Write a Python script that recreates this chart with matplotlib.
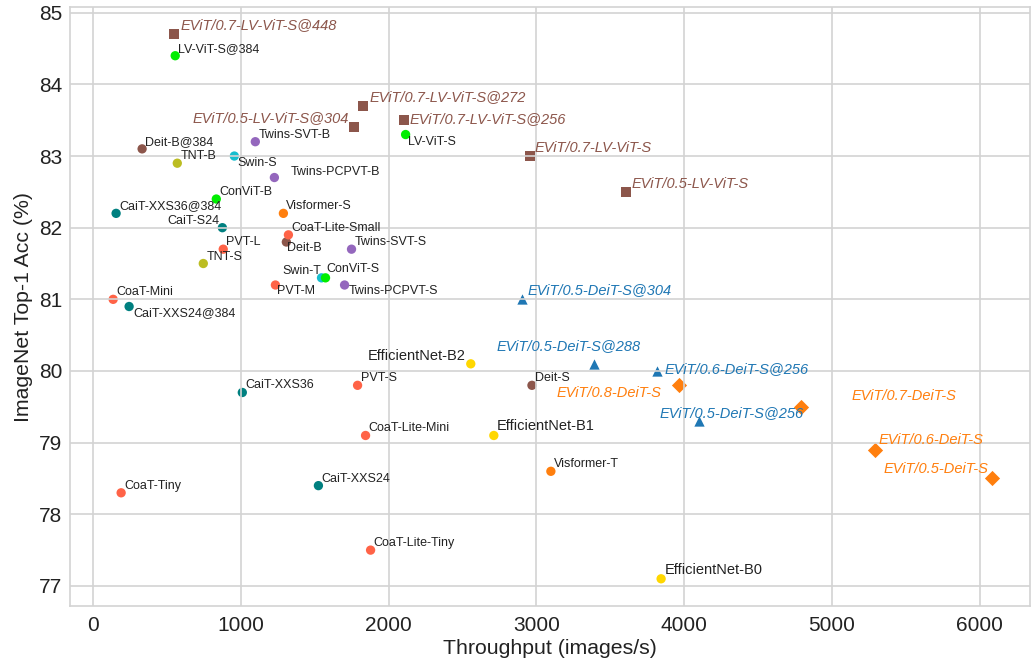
import matplotlib
matplotlib.use("Agg")
import matplotlib.pyplot as plt
import seaborn as sns

# --- baseline models ---
base_names = ["LV-ViT-S@384", "LV-ViT-S", "Deit-B@384", "Deit-B", "Deit-S",
              "TNT-B", "TNT-S", "Swin-S", "Swin-T",
              "Twins-SVT-B", "Twins-PCPVT-B", "Twins-SVT-S", "Twins-PCPVT-S",
              "ConViT-B", "ConViT-S",
              "CaiT-XXS36@384", "CaiT-S24", "CaiT-XXS24@384", "CaiT-XXS36", "CaiT-XXS24",
              "Visformer-S", "Visformer-T",
              "CoaT-Lite-Small", "PVT-L", "PVT-M", "PVT-S", "CoaT-Mini",
              "CoaT-Lite-Mini", "CoaT-Tiny", "CoaT-Lite-Tiny",
              "EfficientNet-B2", "EfficientNet-B1", "EfficientNet-B0"]
base_thr = [556, 2115, 332, 1308, 2970,
            570, 746, 956, 1546,
            1098, 1227, 1749, 1702,
            834, 1573,
            156, 875, 244, 1010, 1525,
            1288, 3098,
            1322, 881, 1234, 1790, 136,
            1844, 190, 1878,
            2556, 2712, 3844]
base_acc = [84.4, 83.3, 83.1, 81.8, 79.8,
            82.9, 81.5, 83.0, 81.3,
            83.2, 82.7, 81.7, 81.2,
            82.4, 81.3,
            82.2, 82.0, 80.9, 79.7, 78.4,
            82.2, 78.6,
            81.9, 81.7, 81.2, 79.8, 81.0,
            79.1, 78.3, 77.5,
            80.1, 79.1, 77.1]
base_family = ["lvvit", "lvvit", "deit", "deit", "deit",
               "tnt", "tnt", "swin", "swin",
               "twins", "twins", "twins", "twins",
               "convit", "convit",
               "cait", "cait", "cait", "cait", "cait",
               "visformer", "visformer",
               "coat", "coat", "coat", "coat", "coat",
               "coat", "coat", "coat",
               "effnet", "effnet", "effnet"]

# --- EViT on LV-ViT ---
evit_lv_names = ["EViT/0.7-LV-ViT-S@448", "EViT/0.7-LV-ViT-S@272", "EViT/0.5-LV-ViT-S@304",
                 "EViT/0.7-LV-ViT-S@256", "EViT/0.7-LV-ViT-S", "EViT/0.5-LV-ViT-S"]
evit_lv_thr = [549, 1830, 1763, 2102, 2956, 3607]
evit_lv_acc = [84.7, 83.7, 83.4, 83.5, 83.0, 82.5]

# --- EViT on DeiT-S, higher resolution ---
evit_res_names = ["EViT/0.5-DeiT-S@304", "EViT/0.5-DeiT-S@288",
                  "EViT/0.6-DeiT-S@256", "EViT/0.5-DeiT-S@256"]
evit_res_thr = [2902, 3390, 3817, 4102]
evit_res_acc = [81.0, 80.1, 80.0, 79.3]

# --- EViT on DeiT-S ---
evit_deit_names = ["EViT/0.8-DeiT-S", "EViT/0.7-DeiT-S", "EViT/0.6-DeiT-S", "EViT/0.5-DeiT-S"]
evit_deit_thr = [3966, 4793, 5288, 6081]
evit_deit_acc = [79.8, 79.5, 78.9, 78.5]

family_colors = {
    "lvvit": "#00ee00", "deit": "#8c564b", "tnt": "#bcbd22", "swin": "#17becf",
    "twins": "#9467bd", "convit": "#00ee00", "cait": "#008080", "visformer": "#ff7f0e",
    "coat": "#ff6347", "effnet": "#ffd700",
}

# label offsets in pixels (dx, dy, ha); default is up-right of the point
label_pos = {
    "Swin-S": (3, -7, "left"), "Twins-PCPVT-B": (16, 6, "left"),
    "CaiT-S24": (-3, 7, "right"), "Deit-B": (1, -6, "left"),
    "Swin-T": (0, 7, "right"), "ConViT-S": (1, 9, "left"),
    "PVT-M": (2, -6, "left"), "Twins-PCPVT-S": (4, -6, "left"),
    "CaiT-XXS24@384": (4, -7, "left"), "LV-ViT-S": (2, -7, "left"),
    "EfficientNet-B2": (-5, 8, "right"), "EfficientNet-B1": (3, 9, "left"),
    "EfficientNet-B0": (4, 9, "left"),
    "EViT/0.7-LV-ViT-S@448": (6, 9, "left"), "EViT/0.7-LV-ViT-S@272": (6, 9, "left"),
    "EViT/0.5-LV-ViT-S@304": (-5, 9, "right"), "EViT/0.7-LV-ViT-S@256": (6, 1, "left"),
    "EViT/0.7-LV-ViT-S": (5, 8, "left"), "EViT/0.5-LV-ViT-S": (5, 8, "left"),
    "EViT/0.5-DeiT-S@304": (6, 9, "left"), "EViT/0.5-DeiT-S@288": (-97, 18, "left"),
    "EViT/0.6-DeiT-S@256": (7, 2, "left"), "EViT/0.5-DeiT-S@256": (-40, 8, "left"),
    "EViT/0.8-DeiT-S": (-18, -8, "right"), "EViT/0.7-DeiT-S": (50, 11, "left"),
    "EViT/0.6-DeiT-S": (4, 10, "left"), "EViT/0.5-DeiT-S": (-3, 9, "right"),
}

sns.set_style("whitegrid")
plt.rcParams["font.family"] = ["Liberation Sans", "DejaVu Sans"]

fig = plt.figure(figsize=(10.34, 6.6), dpi=100)
ax = fig.add_axes([0.0677, 0.0818, 0.9284, 0.9076])
ax.set_axisbelow(False)
ax.grid(color="#d3d3d3", linewidth=1.2)
for sp in ax.spines.values():
    sp.set_color("#d3d3d3")
    sp.set_linewidth(1.2)


def label(name, x, y, color, size, style="normal"):
    dx, dy, ha = label_pos.get(name, (3, 7, "left"))
    ax.annotate(name, (x, y), xytext=(dx, dy), textcoords="offset pixels",
                ha=ha, va="center", fontsize=size, color=color, style=style)


cols = [family_colors[f] for f in base_family]
ax.scatter(base_thr, base_acc, s=45, c=cols, linewidths=0)
for n, x, y in zip(base_names, base_thr, base_acc):
    big = n.startswith("EfficientNet")
    label(n, x, y, "#222222", 10.5 if big else 9)

ax.scatter(evit_lv_thr, evit_lv_acc, s=45, marker="s", c="#8c564b", linewidths=0)
for n, x, y in zip(evit_lv_names, evit_lv_thr, evit_lv_acc):
    label(n, x, y, "#8c564b", 10.5, "italic")

ax.scatter(evit_res_thr, evit_res_acc, s=55, marker="^", c="#1f77b4", linewidths=0)
for n, x, y in zip(evit_res_names, evit_res_thr, evit_res_acc):
    label(n, x, y, "#1f77b4", 10.5, "italic")

ax.scatter(evit_deit_thr, evit_deit_acc, s=60, marker="D", c="#ff7f0e", linewidths=0)
for n, x, y in zip(evit_deit_names, evit_deit_thr, evit_deit_acc):
    label(n, x, y, "#ff7f0e", 10.5, "italic")

ax.set_xlim(-156, 6340)
ax.set_ylim(76.72, 85.08)
ax.set_xticks([0, 1000, 2000, 3000, 4000, 5000, 6000])
ax.set_yticks([77, 78, 79, 80, 81, 82, 83, 84, 85])
ax.tick_params(labelsize=15, colors="#222222", length=0)
ax.tick_params(axis="x", pad=7)
ax.tick_params(axis="y", pad=5.5)
ax.set_xlabel("Throughput (images/s)", fontsize=15.3, color="#222222", labelpad=3)
ax.set_ylabel("ImageNet Top-1 Acc (%)", fontsize=15.3, color="#222222")

fig.savefig("out.png", dpi=100)
